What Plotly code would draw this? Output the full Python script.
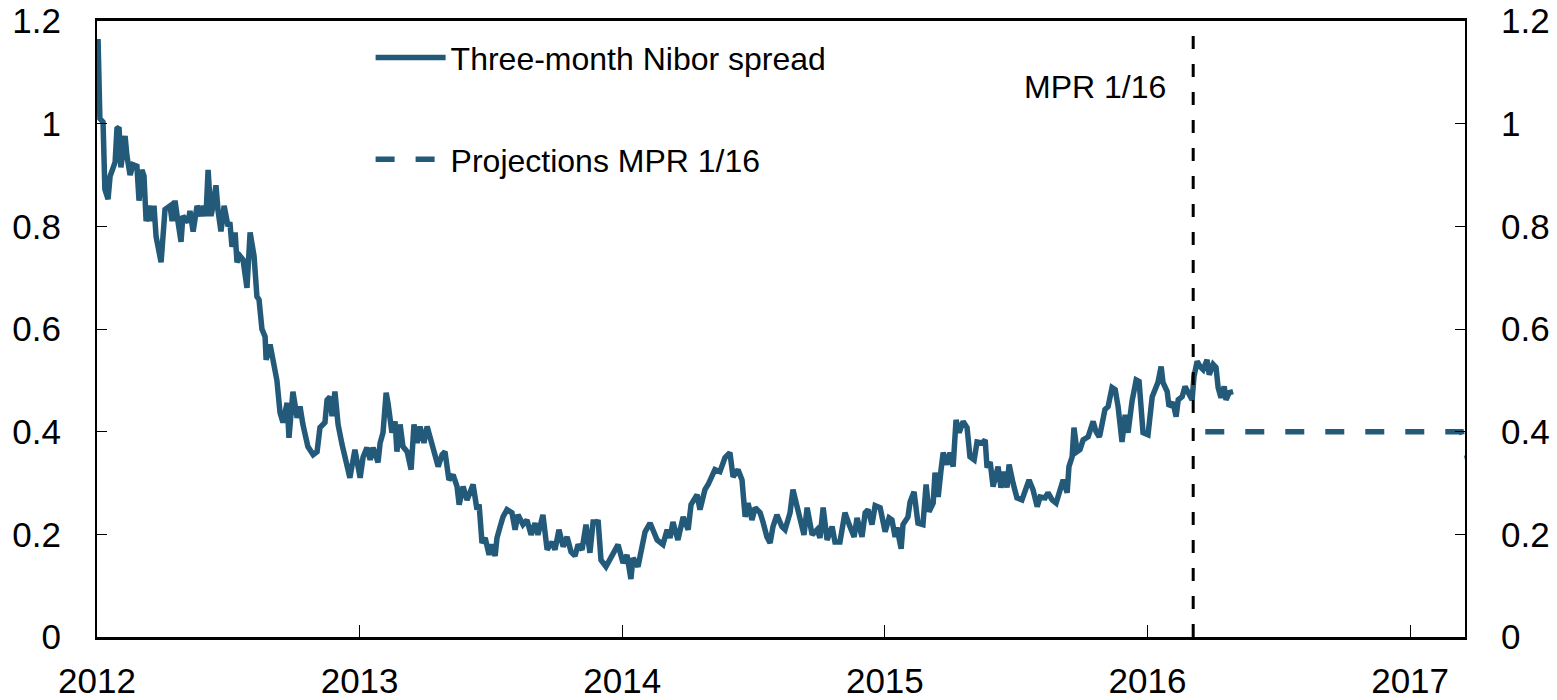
import plotly.graph_objects as go

# Three-month Nibor spread (percentage points), time as decimal years
nibor_t = [
    2012.004, 2012.011, 2012.023, 2012.030, 2012.042, 2012.050, 2012.069, 2012.076, 2012.084, 2012.091,
    2012.107, 2012.114, 2012.126, 2012.137, 2012.152, 2012.160, 2012.171, 2012.179, 2012.187, 2012.202,
    2012.209, 2012.217, 2012.225, 2012.244, 2012.259, 2012.278, 2012.286, 2012.297, 2012.308, 2012.320,
    2012.327, 2012.347, 2012.354, 2012.366, 2012.381, 2012.396, 2012.404, 2012.415, 2012.423, 2012.434,
    2012.442, 2012.453, 2012.461, 2012.472, 2012.484, 2012.499, 2012.506, 2012.514, 2012.526, 2012.533,
    2012.545, 2012.556, 2012.571, 2012.583, 2012.598, 2012.609, 2012.617, 2012.628, 2012.640, 2012.644,
    2012.659, 2012.670, 2012.685, 2012.697, 2012.708, 2012.724, 2012.731, 2012.746, 2012.762, 2012.773,
    2012.784, 2012.803, 2012.823, 2012.838, 2012.849, 2012.868, 2012.876, 2012.887, 2012.895, 2012.906,
    2012.918, 2012.933, 2012.963, 2012.982,
    2013.002, 2013.013, 2013.028, 2013.040, 2013.051, 2013.070, 2013.078, 2013.089, 2013.101, 2013.108,
    2013.123, 2013.135, 2013.142, 2013.154, 2013.165, 2013.181, 2013.196, 2013.207, 2013.219, 2013.230,
    2013.245, 2013.257, 2013.276, 2013.287, 2013.299, 2013.314, 2013.325, 2013.340, 2013.356, 2013.371,
    2013.379, 2013.394, 2013.409, 2013.420, 2013.432, 2013.447, 2013.455, 2013.466, 2013.478, 2013.493,
    2013.504, 2013.516, 2013.523, 2013.535, 2013.546, 2013.561, 2013.580, 2013.592, 2013.603, 2013.622,
    2013.637, 2013.653, 2013.668, 2013.679, 2013.698, 2013.714, 2013.733, 2013.744, 2013.759, 2013.775,
    2013.790, 2013.805, 2013.820, 2013.832, 2013.847, 2013.862, 2013.877, 2013.889, 2013.904, 2013.908,
    2013.919, 2013.938, 2013.961, 2013.984,
    2014.003, 2014.018, 2014.033, 2014.041, 2014.060, 2014.087, 2014.106, 2014.133, 2014.155, 2014.171,
    2014.182, 2014.193, 2014.212, 2014.232, 2014.251, 2014.262, 2014.285, 2014.296, 2014.315, 2014.327,
    2014.353, 2014.372, 2014.391, 2014.410, 2014.422, 2014.441, 2014.456, 2014.468, 2014.479, 2014.494,
    2014.506, 2014.525, 2014.536, 2014.551, 2014.563, 2014.574, 2014.589, 2014.608, 2014.620, 2014.639,
    2014.650, 2014.666, 2014.677, 2014.692, 2014.704, 2014.723, 2014.742, 2014.753, 2014.765, 2014.780,
    2014.799, 2014.810, 2014.829, 2014.848, 2014.867, 2014.883, 2014.894, 2014.913, 2014.925, 2014.936,
    2014.951, 2014.963, 2014.982,
    2015.001, 2015.016, 2015.027, 2015.039, 2015.046, 2015.062, 2015.069, 2015.088, 2015.096, 2015.111,
    2015.126, 2015.145, 2015.157, 2015.168, 2015.184, 2015.191, 2015.203, 2015.214, 2015.222, 2015.237,
    2015.248, 2015.260, 2015.271, 2015.283, 2015.298, 2015.313, 2015.324, 2015.340, 2015.351, 2015.370,
    2015.382, 2015.389, 2015.401, 2015.412, 2015.431, 2015.442, 2015.454, 2015.465, 2015.473, 2015.488,
    2015.503, 2015.522, 2015.534, 2015.549, 2015.564, 2015.580, 2015.591, 2015.610, 2015.621, 2015.637,
    2015.652, 2015.667, 2015.679, 2015.694, 2015.701, 2015.713, 2015.720, 2015.732, 2015.743, 2015.755,
    2015.774, 2015.793, 2015.804, 2015.816, 2015.819, 2015.838, 2015.850, 2015.865, 2015.877, 2015.888,
    2015.903, 2015.915, 2015.926, 2015.941, 2015.957, 2015.968, 2015.983,
    2016.002, 2016.018, 2016.029, 2016.040, 2016.052, 2016.059, 2016.075, 2016.082, 2016.097, 2016.109,
    2016.117, 2016.132, 2016.143, 2016.155, 2016.170, 2016.177, 2016.189, 2016.200, 2016.212, 2016.227,
    2016.235, 2016.250, 2016.261, 2016.269, 2016.280, 2016.292, 2016.299, 2016.311, 2016.326,
]
nibor_v = [
    1.165, 1.010, 1.003, 0.872, 0.853, 0.898, 0.925, 0.990, 0.993, 0.915,
    0.976, 0.937, 0.900, 0.920, 0.917, 0.850, 0.910, 0.898, 0.810, 0.840,
    0.810, 0.840, 0.780, 0.730, 0.833, 0.840, 0.810, 0.850, 0.810, 0.770,
    0.820, 0.808, 0.830, 0.790, 0.840, 0.820, 0.840, 0.820, 0.910, 0.820,
    0.840, 0.880, 0.830, 0.790, 0.840, 0.800, 0.808, 0.760, 0.788, 0.730,
    0.742, 0.735, 0.680, 0.788, 0.742, 0.663, 0.657, 0.600, 0.585, 0.540,
    0.570, 0.540, 0.500, 0.437, 0.418, 0.456, 0.388, 0.478, 0.427, 0.449,
    0.414, 0.371, 0.355, 0.361, 0.408, 0.418, 0.462, 0.468, 0.430, 0.478,
    0.414, 0.375, 0.310, 0.365,
    0.310, 0.350, 0.369, 0.345, 0.369, 0.340, 0.378, 0.398, 0.476, 0.456,
    0.398, 0.420, 0.361, 0.414, 0.371, 0.361, 0.326, 0.414, 0.378, 0.410,
    0.378, 0.410, 0.375, 0.350, 0.332, 0.355, 0.361, 0.306, 0.316, 0.293,
    0.258, 0.293, 0.267, 0.281, 0.297, 0.248, 0.258, 0.183, 0.193, 0.160,
    0.180, 0.158, 0.193, 0.215, 0.234, 0.248, 0.242, 0.209, 0.238, 0.219,
    0.228, 0.199, 0.222, 0.199, 0.238, 0.170, 0.185, 0.170, 0.209, 0.176,
    0.195, 0.166, 0.158, 0.180, 0.170, 0.219, 0.164, 0.224, 0.224, 0.228,
    0.150, 0.137, 0.156, 0.180,
    0.144, 0.160, 0.113, 0.154, 0.137, 0.205, 0.222, 0.189, 0.180, 0.209,
    0.193, 0.224, 0.189, 0.234, 0.209, 0.258, 0.277, 0.248, 0.287, 0.297,
    0.326, 0.322, 0.349, 0.359, 0.312, 0.326, 0.306, 0.234, 0.261, 0.228,
    0.252, 0.242, 0.224, 0.195, 0.183, 0.215, 0.238, 0.215, 0.209, 0.242,
    0.287, 0.254, 0.234, 0.199, 0.252, 0.199, 0.209, 0.193, 0.252, 0.189,
    0.215, 0.185, 0.185, 0.242, 0.215, 0.195, 0.232, 0.195, 0.242, 0.248,
    0.219, 0.256, 0.252,
    0.205, 0.232, 0.228, 0.195, 0.213, 0.172, 0.219, 0.234, 0.263, 0.283,
    0.222, 0.219, 0.297, 0.244, 0.261, 0.320, 0.273, 0.326, 0.359, 0.336,
    0.359, 0.332, 0.423, 0.398, 0.420, 0.408, 0.351, 0.345, 0.380, 0.378,
    0.384, 0.330, 0.341, 0.293, 0.332, 0.291, 0.322, 0.291, 0.336, 0.300,
    0.271, 0.267, 0.287, 0.306, 0.287, 0.254, 0.273, 0.271, 0.281, 0.267,
    0.261, 0.287, 0.306, 0.281, 0.332, 0.351, 0.408, 0.361, 0.365, 0.384,
    0.390, 0.420, 0.400, 0.390, 0.394, 0.443, 0.449, 0.486, 0.482, 0.449,
    0.380, 0.433, 0.398, 0.459, 0.501, 0.498, 0.398,
    0.394, 0.468, 0.482, 0.496, 0.527, 0.496, 0.478, 0.449, 0.457, 0.429,
    0.462, 0.468, 0.488, 0.478, 0.462, 0.507, 0.537, 0.527, 0.521, 0.540,
    0.511, 0.531, 0.525, 0.486, 0.466, 0.488, 0.462, 0.476, 0.478,
]

# Projections MPR 1/16
proj_t = [2016.220, 2016.500, 2016.750, 2017.000, 2017.195, 2017.240]
proj_v = [0.40, 0.40, 0.40, 0.40, 0.40, 0.30]

mpr_date = 2016.174
x_ticks = [2012, 2013, 2014, 2015, 2016, 2017]
y_ticks = [0, 0.2, 0.4, 0.6, 0.8, 1.0, 1.2]
y_labels = ["0", "0.2", "0.4", "0.6", "0.8", "1", "1.2"]

COLOR = "#235a7a"
FONT = "Liberation Sans, Arial, sans-serif"

fig = go.Figure()
fig.add_trace(go.Scatter(
    x=nibor_t, y=nibor_v, mode="lines", name="Three-month Nibor spread",
    line=dict(color=COLOR, width=5.5), legendgroup="a",
))
fig.add_trace(go.Scatter(
    x=proj_t, y=proj_v, mode="lines", name="Projections MPR 1/16",
    line=dict(color=COLOR, width=5.5, dash="19px,21px"), legendgroup="b",
    yaxis="y2",
))
fig.add_trace(go.Scatter(
    x=[mpr_date, mpr_date], y=[0, 1.2], mode="lines", showlegend=False,
    line=dict(color="black", width=3, dash="13px,15px"),
))

fig.add_annotation(
    x=mpr_date, y=1.071, xref="x", yref="y", text="MPR 1/16", showarrow=False,
    xanchor="right", yanchor="middle", xshift=-25,
    font=dict(family=FONT, size=32, color="black"),
)

axis_common = dict(
    showgrid=False, zeroline=False, showline=True, linecolor="black",
    ticks="inside", tickcolor="black", automargin=False,
    tickfont=dict(family=FONT, size=35, color="black"),
)

fig.update_layout(
    width=1557, height=700,
    margin=dict(l=97, r=92, t=21, b=63),
    paper_bgcolor="white", plot_bgcolor="white",
    font=dict(family=FONT, color="black"),
    showlegend=True,
    legend=dict(
        x=0.2, y=0.985, xanchor="left", yanchor="top",
        font=dict(family=FONT, size=32, color="black"),
        bgcolor="rgba(0,0,0,0)", tracegroupgap=57, itemwidth=70,
    ),
    xaxis=dict(
        **axis_common, range=[2012, 2017.209], tickvals=x_ticks,
        ticktext=[str(v) for v in x_ticks], ticklen=12, linewidth=3,
        mirror=True, ticklabelstandoff=11,
    ),
    yaxis=dict(
        **axis_common, range=[0, 1.2], tickvals=y_ticks, ticktext=y_labels,
        ticklen=10, linewidth=2, ticklabelstandoff=27,
    ),
    yaxis2=dict(
        **axis_common, range=[0, 1.2], tickvals=y_ticks, ticktext=y_labels,
        ticklen=10, linewidth=2, overlaying="y", side="right",
        ticklabelstandoff=27,
    ),
)

fig.write_html(
    "out.html",
    config={"displayModeBar": False},
    post_script="document.body.style.margin='0';document.body.style.overflow='hidden';",
)
